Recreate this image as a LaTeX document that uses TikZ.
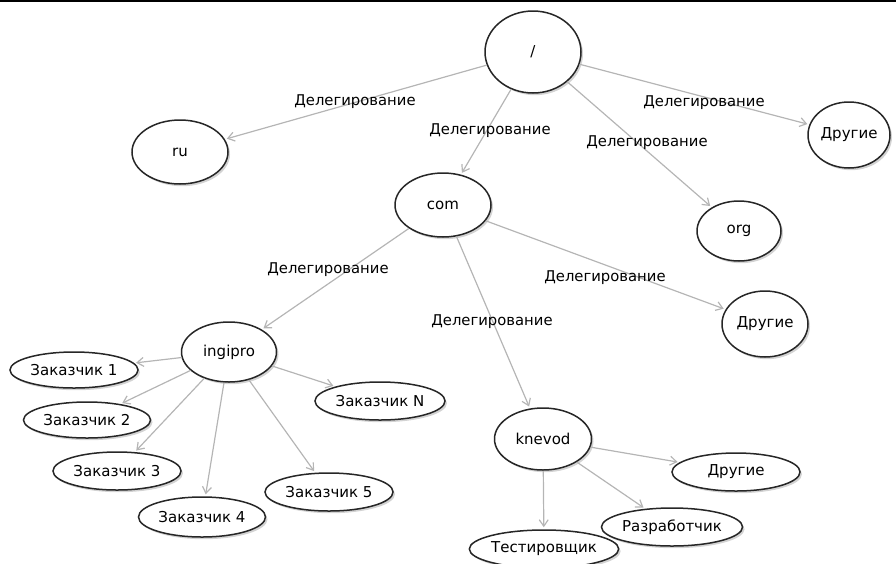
\documentclass[tikz,border=0pt]{standalone}
\usepackage{fontspec}
\setmainfont{DejaVu Sans}
\usetikzlibrary{shapes.geometric,arrows.meta,shadows}
\definecolor{edgegray}{HTML}{B5B5B5}
\definecolor{bordergray}{HTML}{262626}
\begin{document}
\begin{tikzpicture}[x=1pt,y=-1pt,
  dn/.style={ellipse,draw=bordergray,line width=1.5pt,fill=white,inner sep=0pt,
    font=\fontsize{15}{17}\selectfont,
    drop shadow={shadow xshift=2pt,shadow yshift=-2.2pt,opacity=0.35,fill=gray}},
  edge/.style={draw=edgegray,line width=1.2pt,-{Straight Barb[length=6.5pt,width=9pt]},shorten >=2pt},
  lbl/.style={font=\fontsize{14.8}{17}\selectfont,inner sep=0pt}]
\useasboundingbox (0,0) rectangle (896,563);
\draw[line width=2pt] (0,1) -- (896,1);
% nodes
\node[dn,minimum width=96pt,minimum height=82pt] (root) at (533,52) {/};
\node[dn,minimum width=96pt,minimum height=64pt] (ru) at (180,152) {ru};
\node[dn,minimum width=96pt,minimum height=64pt] (com) at (443,205) {com};
\node[dn,minimum width=84pt,minimum height=60pt] (org) at (739,231) {org};
\node[dn,minimum width=82pt,minimum height=66pt] (oth1) at (849,135) {Другие};
\node[dn,minimum width=86pt,minimum height=66pt] (oth2) at (765,324) {Другие};
\node[dn,minimum width=95pt,minimum height=60pt] (ing) at (229,352) {ingipro};
\node[dn,minimum width=128pt,minimum height=36pt] (z1) at (74,370) {Заказчик 1};
\node[dn,minimum width=127pt,minimum height=36pt] (z2) at (87,420) {Заказчик 2};
\node[dn,minimum width=128pt,minimum height=38pt] (z3) at (117,471) {Заказчик 3};
\node[dn,minimum width=127pt,minimum height=40pt] (z4) at (202,517) {Заказчик 4};
\node[dn,minimum width=128pt,minimum height=38pt] (z5) at (329,492) {Заказчик 5};
\node[dn,minimum width=130pt,minimum height=38pt] (zn) at (380,401) {Заказчик N};
\node[dn,minimum width=97pt,minimum height=62pt] (kn) at (543,439) {knevod};
\node[dn,minimum width=128pt,minimum height=38pt] (oth3) at (736,472) {Другие};
\node[dn,minimum width=129pt,minimum height=38pt] (dev) at (672,527) {Разработчик};
\node[dn,minimum width=128pt,minimum height=38pt] (test) at (544,549) {Тестировщик};
% edges
\draw[edge] (root) -- (ru);
\draw[edge] (root) -- (com);
\draw[edge] (root) -- (org);
\draw[edge] (root) -- (oth1);
\draw[edge] (com) -- (ing);
\draw[edge] (com) -- (kn);
\draw[edge] (com) -- (oth2);
\draw[edge] (ing) -- (z1);
\draw[edge] (ing) -- (z2);
\draw[edge] (ing) -- (z3);
\draw[edge] (ing) -- (z4);
\draw[edge] (ing) -- (z5);
\draw[edge] (ing) -- (zn);
\draw[edge] (kn) -- (oth3);
\draw[edge] (kn) -- (dev);
\draw[edge] (kn) -- (test);
% labels
\node[lbl] (l1) at (355,102) {Делегирование};
\node[lbl] (l2) at (490,131) {Делегирование};
\node[lbl] (l3) at (647,143) {Делегирование};
\node[lbl] (l4) at (704,103) {Делегирование};
\node[lbl] (l5) at (328,270) {Делегирование};
\node[lbl] (l6) at (605,278) {Делегирование};
\node[lbl] (l7) at (492,322) {Делегирование};
\end{tikzpicture}
\end{document}
